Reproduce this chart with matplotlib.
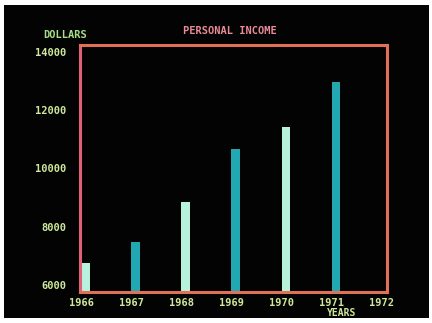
import matplotlib
matplotlib.use("Agg")
import matplotlib.pyplot as plt
from matplotlib.patches import Rectangle

years = [1966, 1967, 1968, 1969, 1970, 1971]
income = [6750, 7480, 8850, 10670, 11430, 12970]
bar_colors = ["#b8f2dc", "#22a8b2", "#b8f2dc", "#22a8b2", "#b8f2dc", "#22a8b2"]
xtick_years = [1966, 1967, 1968, 1969, 1970, 1971, 1972]
ytick_vals = [6000, 8000, 10000, 12000, 14000]

W, H = 432, 323
fig = plt.figure(figsize=(W / 100, H / 100), dpi=100, facecolor="white")
fig.patches.append(Rectangle((4 / W, 1 - 318 / H), 425 / W, 313 / H,
                             transform=fig.transFigure, facecolor="#030303",
                             edgecolor="none", zorder=-5))

ax = fig.add_axes([80 / W, 1 - 292 / H, 307 / W, 247 / H])
ax.set_facecolor("#030303")
ax.bar(years, income, width=0.17, align="edge", color=bar_colors, zorder=2)
ax.set_xlim(1965.98, 1972.1)
ax.set_ylim(5760, 14240)

for s in ax.spines.values():
    s.set_color("#e07058")
    s.set_linewidth(2.2)
    s.set_zorder(3)
ax.spines["left"].set_color("#e0607a")

mono = "DejaVu Sans Mono"
lab = "#cfe89a"
ax.set_xticks(xtick_years)
ax.set_xticklabels([str(y) for y in xtick_years], fontsize=7.5, family=mono,
                   fontweight="bold", color=lab)
ax.set_yticks(ytick_vals)
ax.set_yticklabels([str(v) for v in ytick_vals], fontsize=7.5, family=mono,
                   fontweight="bold", color=lab)
ax.tick_params(axis="x", length=0, pad=4)
ax.tick_params(axis="y", length=0, pad=10)

fig.text(230 / W, 1 - 31 / H, "PERSONAL INCOME", ha="center", va="center",
         fontsize=7.5, family=mono, fontweight="bold", color="#e88a98")
fig.text(65 / W, 1 - 35 / H, "DOLLARS", ha="center", va="center",
         fontsize=7.5, family=mono, fontweight="bold", color="#a8e088")
fig.text(342 / W, 1 - 313 / H, "YEARS", ha="center", va="center",
         fontsize=7, family=mono, fontweight="bold", color=lab)

fig.savefig("out.png", dpi=100, facecolor="white")
